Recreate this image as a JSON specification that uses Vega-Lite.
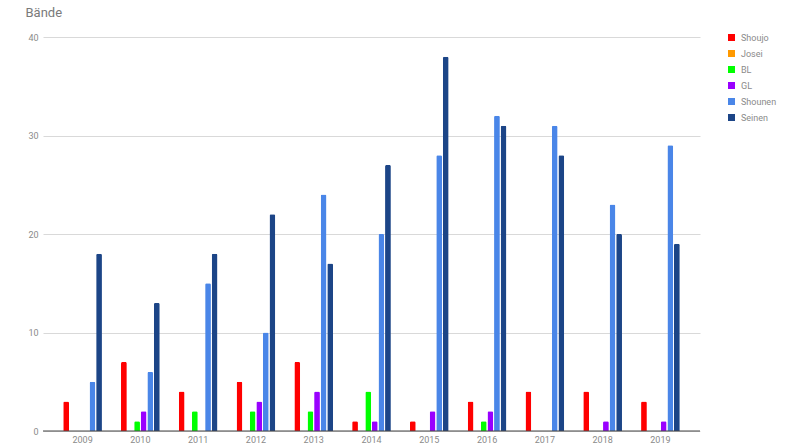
{
  "$schema": "https://vega.github.io/schema/vega-lite/v6.json",
  "width": 657,
  "height": 394,
  "autosize": {"type": "none"},
  "padding": {"left": 43, "top": 37, "right": 100, "bottom": 14},
  "background": "white",
  "config": {
    "font": "Roboto",
    "view": {"stroke": null},
    "axis": {"labelColor": "#8a8a8a", "labelFontSize": 9, "labelFont": "Roboto"}
  },
  "data": {
    "values": [
      {"year": "2009", "genre": "Shoujo", "count": 3},
      {"year": "2009", "genre": "Josei", "count": 0},
      {"year": "2009", "genre": "BL", "count": 0},
      {"year": "2009", "genre": "GL", "count": 0},
      {"year": "2009", "genre": "Shounen", "count": 5},
      {"year": "2009", "genre": "Seinen", "count": 18},
      {"year": "2010", "genre": "Shoujo", "count": 7},
      {"year": "2010", "genre": "Josei", "count": 0},
      {"year": "2010", "genre": "BL", "count": 1},
      {"year": "2010", "genre": "GL", "count": 2},
      {"year": "2010", "genre": "Shounen", "count": 6},
      {"year": "2010", "genre": "Seinen", "count": 13},
      {"year": "2011", "genre": "Shoujo", "count": 4},
      {"year": "2011", "genre": "Josei", "count": 0},
      {"year": "2011", "genre": "BL", "count": 2},
      {"year": "2011", "genre": "GL", "count": 0},
      {"year": "2011", "genre": "Shounen", "count": 15},
      {"year": "2011", "genre": "Seinen", "count": 18},
      {"year": "2012", "genre": "Shoujo", "count": 5},
      {"year": "2012", "genre": "Josei", "count": 0},
      {"year": "2012", "genre": "BL", "count": 2},
      {"year": "2012", "genre": "GL", "count": 3},
      {"year": "2012", "genre": "Shounen", "count": 10},
      {"year": "2012", "genre": "Seinen", "count": 22},
      {"year": "2013", "genre": "Shoujo", "count": 7},
      {"year": "2013", "genre": "Josei", "count": 0},
      {"year": "2013", "genre": "BL", "count": 2},
      {"year": "2013", "genre": "GL", "count": 4},
      {"year": "2013", "genre": "Shounen", "count": 24},
      {"year": "2013", "genre": "Seinen", "count": 17},
      {"year": "2014", "genre": "Shoujo", "count": 1},
      {"year": "2014", "genre": "Josei", "count": 0},
      {"year": "2014", "genre": "BL", "count": 4},
      {"year": "2014", "genre": "GL", "count": 1},
      {"year": "2014", "genre": "Shounen", "count": 20},
      {"year": "2014", "genre": "Seinen", "count": 27},
      {"year": "2015", "genre": "Shoujo", "count": 1},
      {"year": "2015", "genre": "Josei", "count": 0},
      {"year": "2015", "genre": "BL", "count": 0},
      {"year": "2015", "genre": "GL", "count": 2},
      {"year": "2015", "genre": "Shounen", "count": 28},
      {"year": "2015", "genre": "Seinen", "count": 38},
      {"year": "2016", "genre": "Shoujo", "count": 3},
      {"year": "2016", "genre": "Josei", "count": 0},
      {"year": "2016", "genre": "BL", "count": 1},
      {"year": "2016", "genre": "GL", "count": 2},
      {"year": "2016", "genre": "Shounen", "count": 32},
      {"year": "2016", "genre": "Seinen", "count": 31},
      {"year": "2017", "genre": "Shoujo", "count": 4},
      {"year": "2017", "genre": "Josei", "count": 0},
      {"year": "2017", "genre": "BL", "count": 0},
      {"year": "2017", "genre": "GL", "count": 0},
      {"year": "2017", "genre": "Shounen", "count": 31},
      {"year": "2017", "genre": "Seinen", "count": 28},
      {"year": "2018", "genre": "Shoujo", "count": 4},
      {"year": "2018", "genre": "Josei", "count": 0},
      {"year": "2018", "genre": "BL", "count": 0},
      {"year": "2018", "genre": "GL", "count": 1},
      {"year": "2018", "genre": "Shounen", "count": 23},
      {"year": "2018", "genre": "Seinen", "count": 20},
      {"year": "2019", "genre": "Shoujo", "count": 3},
      {"year": "2019", "genre": "Josei", "count": 0},
      {"year": "2019", "genre": "BL", "count": 0},
      {"year": "2019", "genre": "GL", "count": 1},
      {"year": "2019", "genre": "Shounen", "count": 29},
      {"year": "2019", "genre": "Seinen", "count": 19}
    ]
  },
  "layer": [
    {
      "mark": {"type": "bar", "cornerRadiusTopLeft": 1.5, "cornerRadiusTopRight": 1.5},
      "encoding": {
        "x": {
          "field": "year", "type": "nominal",
          "scale": {"paddingInner": 0.33, "paddingOuter": 0.35},
          "axis": {"title": null, "labelAngle": 0, "ticks": false, "domain": false, "grid": false, "labelPadding": 4}
        },
        "xOffset": {
          "field": "genre", "type": "nominal",
          "sort": ["Shoujo", "Josei", "BL", "GL", "Shounen", "Seinen"],
          "scale": {"paddingInner": 0.12}
        },
        "y": {
          "field": "count", "type": "quantitative",
          "scale": {"domain": [0, 40]},
          "axis": {
            "values": [0, 10, 20, 30, 40],
            "title": "Bände", "titleAngle": 0, "titleAlign": "left", "titleBaseline": "alphabetic",
            "titleX": -18, "titleY": -21, "titleColor": "#7a7a7a", "titleFontSize": 13, "titleFontWeight": "normal", "titleFont": "Roboto",
            "domain": false, "ticks": false, "gridColor": "#d9d9d9", "labelPadding": 5
          }
        },
        "color": {
          "field": "genre", "type": "nominal",
          "scale": {
            "domain": ["Shoujo", "Josei", "BL", "GL", "Shounen", "Seinen"],
            "range": ["#ff0000", "#ff9900", "#00ff00", "#9900ff", "#4a86e8", "#1c4587"]
          },
          "legend": {
            "title": null, "orient": "none", "legendX": 684, "legendY": -4,
            "symbolType": "square", "symbolSize": 49, "symbolStrokeWidth": 0,
            "labelFontSize": 9, "labelColor": "#8a8a8a", "labelFont": "Roboto",
            "rowPadding": 6, "padding": 0, "labelOffset": 5
          }
        }
      }
    },
    {
      "mark": {"type": "rule", "color": "#444444", "strokeWidth": 1},
      "data": {"values": [{"y": 0}]},
      "encoding": {"y": {"field": "y", "type": "quantitative"}}
    }
  ]
}
